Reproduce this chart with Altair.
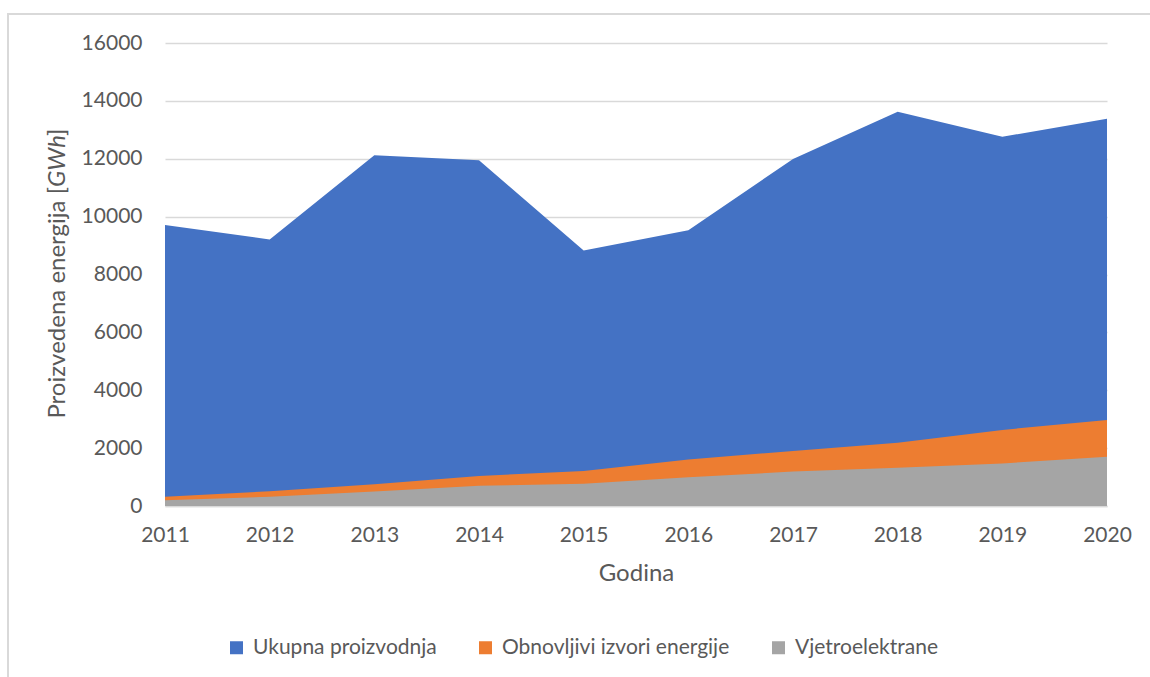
import altair as alt
import pandas as pd

years = [2011, 2012, 2013, 2014, 2015, 2016, 2017, 2018, 2019, 2020]
ukupna = [9710, 9210, 12120, 11950, 8830, 9530, 11990, 13620, 12760, 13380]
obnovljivi = [320, 510, 750, 1040, 1210, 1610, 1900, 2190, 2630, 2970]
vjetro = [200, 320, 500, 700, 770, 990, 1190, 1320, 1470, 1700]

series = ["Ukupna proizvodnja", "Obnovljivi izvori energije", "Vjetroelektrane"]
colors = ["#4472C4", "#ED7D31", "#A5A5A5"]
y_ticks = [0, 2000, 4000, 6000, 8000, 10000, 12000, 14000, 16000]

rows = []
for name, vals in zip(series, [ukupna, obnovljivi, vjetro]):
    for yr, v in zip(years, vals):
        rows.append({"Godina": yr, "Serija": name, "Vrijednost": v})
df = pd.DataFrame(rows)

FONT = "Lato"
TXT = "#595959"
GRID = "#D9D9D9"

color = alt.Color(
    "Serija:N",
    scale=alt.Scale(domain=series, range=colors),
    legend=alt.Legend(
        title=None,
        orient="none",
        legendX=61,
        legendY=594,
        direction="horizontal",
        symbolType="square",
        symbolSize=169,
        symbolStrokeWidth=0,
        labelFontSize=21,
        labelFont=FONT,
        labelColor=TXT,
        labelOffset=6,
        labelLimit=0,
        columnPadding=38,
    ),
)

x = alt.X(
    "Godina:Q",
    scale=alt.Scale(domain=[2011, 2020], nice=False, zero=False),
    axis=alt.Axis(
        values=years,
        format="d",
        title="Godina",
        grid=False,
        ticks=False,
        tickSize=0,
        domainColor=GRID,
        domainWidth=1.5,
        labelFontSize=21,
        labelFont=FONT,
        labelColor=TXT,
        labelPadding=18,
        labelFlush=False,
        labelBound=False,
        labelOverlap=False,
        titleFontSize=24,
        titleFont=FONT,
        titleColor=TXT,
        titleFontWeight="normal",
        titlePadding=16,
    ),
)

y = alt.Y(
    "Vrijednost:Q",
    stack=None,
    scale=alt.Scale(domain=[0, 16000], nice=False),
    axis=alt.Axis(
        values=y_ticks,
        format="d",
        title=None,
        grid=True,
        gridColor=GRID,
        gridWidth=1.5,
        domain=False,
        ticks=False,
        tickSize=0,
        labelFontSize=21,
        labelFont=FONT,
        labelColor=TXT,
        labelPadding=23,
    ),
)

layers = []
for name in series:
    layers.append(
        alt.Chart(df)
        .transform_filter(alt.datum.Serija == name)
        .mark_area(opacity=1, interpolate="linear")
        .encode(x=x, y=y, color=color)
    )

# y-axis title with italic unit
ANCHOR = 144
ytitle_data = alt.Data(values=[{"a": 1}])
t1 = alt.Chart(ytitle_data).mark_text(
    angle=270, align="right", baseline="alphabetic", font=FONT, fontSize=24, color=TXT
).encode(x=alt.value(-100), y=alt.value(ANCHOR), text=alt.value("Proizvedena energija ["))
t2 = alt.Chart(ytitle_data).mark_text(
    angle=270, align="left", baseline="alphabetic", font=FONT, fontSize=24, fontStyle="italic", color=TXT
).encode(x=alt.value(-100), y=alt.value(ANCHOR), text=alt.value("GWh"))
t3 = alt.Chart(ytitle_data).mark_text(
    angle=270, align="left", baseline="alphabetic", font=FONT, fontSize=24, color=TXT
).encode(x=alt.value(-100), y=alt.value(ANCHOR - 51), text=alt.value("]"))

# outer frame (top and left edges)
frame_top = alt.Chart(ytitle_data).mark_rule(color=GRID, strokeWidth=2).encode(
    x=alt.value(-158), x2=alt.value(990), y=alt.value(-29)
)
frame_left = alt.Chart(ytitle_data).mark_rule(color=GRID, strokeWidth=2).encode(
    x=alt.value(-157), y=alt.value(-29), y2=alt.value(640)
)

chart = (
    alt.layer(*layers, t1, t2, t3, frame_top, frame_left)
    .properties(
        width=942,
        height=463,
        autosize=alt.AutoSizeParams(type="none"),
        padding={"left": 165, "top": 43, "right": 43, "bottom": 171},
        background="white",
    )
    .configure_view(stroke=None)
)

chart.save("out.html", embed_options={"renderer": "svg", "actions": False})
